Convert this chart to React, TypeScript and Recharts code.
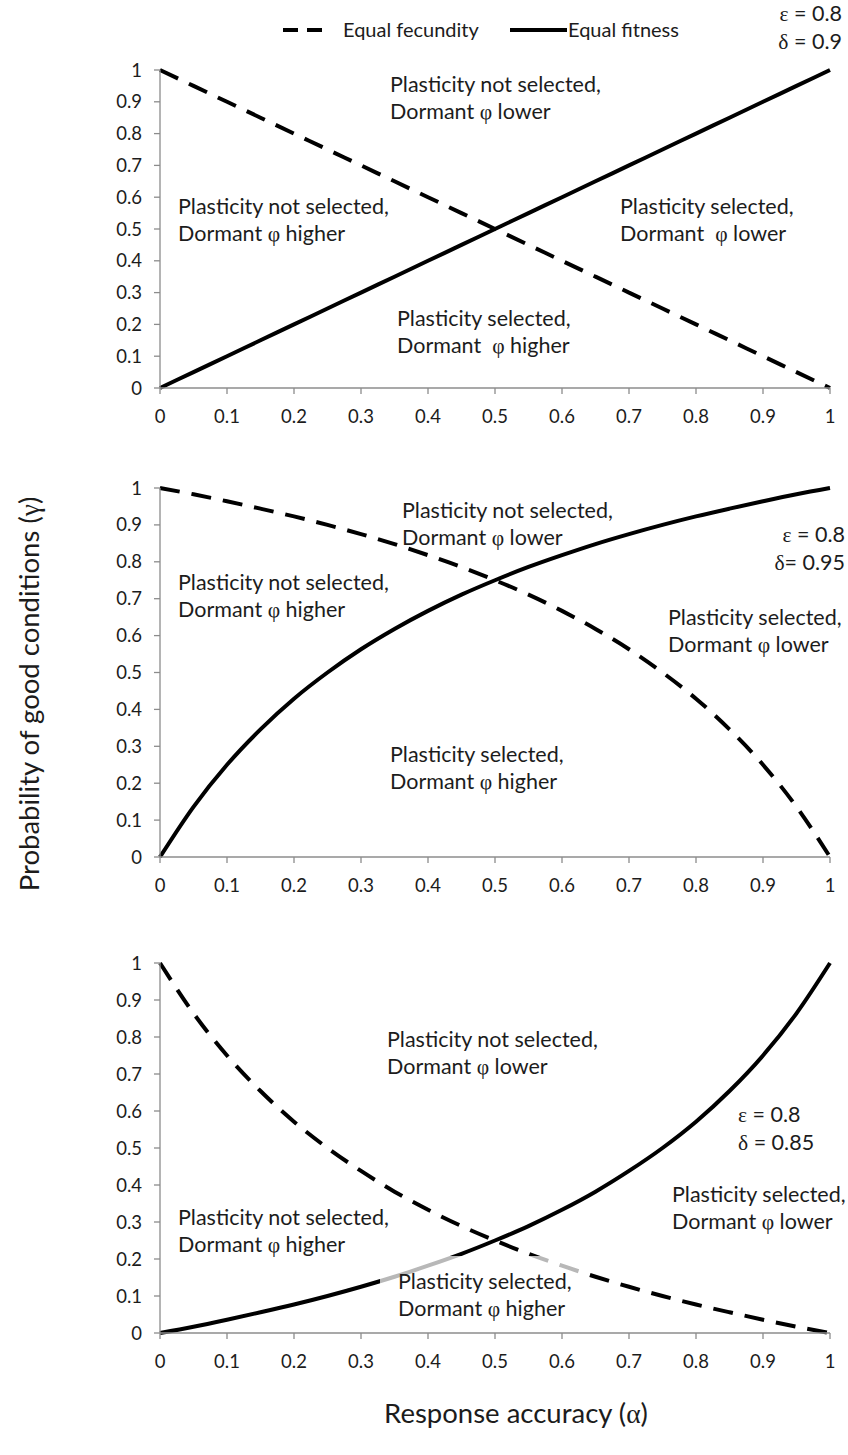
import React from "react";
import { LineChart, Line, XAxis, YAxis } from "recharts";

// response accuracy (alpha) grid
const alpha = [0, 0.05, 0.1, 0.15, 0.2, 0.25, 0.3, 0.35, 0.4, 0.45, 0.5, 0.55, 0.6, 0.65, 0.7, 0.75, 0.8, 0.85, 0.9, 0.95, 1];
const axisTicks = [0, 0.1, 0.2, 0.3, 0.4, 0.5, 0.6, 0.7, 0.8, 0.9, 1];

// delta = 0.9
const fitness90 = [0, 0.05, 0.1, 0.15, 0.2, 0.25, 0.3, 0.35, 0.4, 0.45, 0.5, 0.55, 0.6, 0.65, 0.7, 0.75, 0.8, 0.85, 0.9, 0.95, 1];
const fecundity90 = [1, 0.95, 0.9, 0.85, 0.8, 0.75, 0.7, 0.65, 0.6, 0.55, 0.5, 0.45, 0.4, 0.35, 0.3, 0.25, 0.2, 0.15, 0.1, 0.05, 0];

// delta = 0.95
const fitness95 = [0, 0.136, 0.25, 0.346, 0.429, 0.5, 0.563, 0.618, 0.667, 0.711, 0.75, 0.786, 0.818, 0.848, 0.875, 0.9, 0.923, 0.944, 0.964, 0.983, 1];
const fecundity95 = [1, 0.983, 0.964, 0.944, 0.923, 0.9, 0.875, 0.848, 0.818, 0.786, 0.75, 0.711, 0.667, 0.618, 0.563, 0.5, 0.429, 0.346, 0.25, 0.136, 0];

// delta = 0.85
const fitness85 = [0, 0.017, 0.036, 0.056, 0.077, 0.1, 0.125, 0.152, 0.182, 0.214, 0.25, 0.289, 0.333, 0.382, 0.438, 0.5, 0.571, 0.654, 0.75, 0.864, 1];
const fecundity85 = [1, 0.864, 0.75, 0.654, 0.571, 0.5, 0.438, 0.382, 0.333, 0.289, 0.25, 0.214, 0.182, 0.152, 0.125, 0.1, 0.077, 0.056, 0.036, 0.017, 0];

const FONT = "Lato, 'Open Sans', sans-serif";
const GREEK = "'Liberation Serif', 'DejaVu Serif', serif";
const AXIS = "#8c8c8c";
const TEXT = "#1c1c1c";

const Gk = ({ c }: { c: string }) => <span style={{ fontFamily: GREEK }}>{c}</span>;

function Note({ left, top, lines, right }: { left?: number; top: number; right?: number; lines: React.ReactNode[] }) {
  return (
    <div
      style={{
        position: "absolute",
        left,
        right,
        top,
        fontFamily: FONT,
        fontSize: 21.5,
        lineHeight: "27px",
        color: TEXT,
        whiteSpace: "pre",
        textAlign: right != null ? "right" : "left",
      }}
    >
      {lines.map((l, i) => (
        <div key={i}>{l}</div>
      ))}
    </div>
  );
}

function Panel({ top, plotHeight, fitness, fecundity }: { top: number; plotHeight: number; fitness: number[]; fecundity: number[] }) {
  const data = alpha.map((a, i) => ({ alpha: a, fitness: fitness[i], fecundity: fecundity[i] }));
  const mTop = 20;
  const xH = 45;
  return (
    <div style={{ position: "absolute", left: 0, top: top - mTop }}>
      <LineChart width={848} height={mTop + plotHeight + xH} data={data} margin={{ top: mTop, right: 18, left: 100, bottom: 0 }}>
        <XAxis
          dataKey="alpha"
          type="number"
          domain={[0, 1]}
          ticks={axisTicks}
          interval={0}
          height={xH}
          tickSize={6}
          tickMargin={16}
          axisLine={{ stroke: AXIS, strokeWidth: 1.3 }}
          tickLine={{ stroke: AXIS, strokeWidth: 1.3 }}
          tick={{ fill: TEXT, fontSize: 18.5, fontFamily: FONT }}
        />
        <YAxis
          type="number"
          domain={[0, 1]}
          ticks={axisTicks}
          interval={0}
          width={60}
          tickSize={6}
          tickMargin={12}
          axisLine={{ stroke: AXIS, strokeWidth: 1.3 }}
          tickLine={{ stroke: AXIS, strokeWidth: 1.3 }}
          tick={{ fill: TEXT, fontSize: 18.5, fontFamily: FONT }}
        />
        <Line
          type="monotone"
          dataKey="fecundity"
          stroke="#000"
          strokeWidth={4}
          strokeDasharray="20 12"
          strokeLinecap="butt"
          dot={false}
          isAnimationActive={false}
        />
        <Line type="monotone" dataKey="fitness" stroke="#000" strokeWidth={4} dot={false} isAnimationActive={false} />
      </LineChart>
    </div>
  );
}

const notSelLower = ["Plasticity not selected,", <>Dormant <Gk c="φ" /> lower</>];
const notSelHigher = ["Plasticity not selected,", <>Dormant <Gk c="φ" /> higher</>];
const selLower = ["Plasticity selected,", <>Dormant <Gk c="φ" /> lower</>];
const selLower2 = ["Plasticity selected,", <>Dormant  <Gk c="φ" /> lower</>];
const selHigher = ["Plasticity selected,", <>Dormant <Gk c="φ" /> higher</>];
const selHigher2 = ["Plasticity selected,", <>Dormant  <Gk c="φ" /> higher</>];

export default function App() {
  return (
    <div style={{ position: "absolute", left: 0, top: 0, width: 848, height: 1455, background: "#fff", overflow: "hidden" }}>
      {/* legend */}
      <div style={{ position: "absolute", left: 0, top: 0, width: 848, height: 60, fontFamily: FONT, fontSize: 20, color: TEXT }}>
        <svg width={848} height={60} style={{ position: "absolute", left: 0, top: 0 }}>
          <line x1={283} x2={322} y1={30} y2={30} stroke="#000" strokeWidth={4} strokeDasharray="15 9" />
          <line x1={510} x2={567} y1={30} y2={30} stroke="#000" strokeWidth={4} />
        </svg>
        <div style={{ position: "absolute", left: 343, top: 17 }}>Equal fecundity</div>
        <div style={{ position: "absolute", left: 568, top: 17 }}>Equal fitness</div>
      </div>

      <Panel top={70} plotHeight={318} fitness={fitness90} fecundity={fecundity90} />
      <Panel top={488} plotHeight={369} fitness={fitness95} fecundity={fecundity95} />
      <Panel top={963} plotHeight={370} fitness={fitness85} fecundity={fecundity85} />

      {/* panel 1 */}
      <Note right={6} top={0} lines={[<><Gk c="ε" /> = 0.8</>, <><Gk c="δ" /> = 0.9</>]} />
      <Note left={390} top={71} lines={notSelLower} />
      <Note left={178} top={193} lines={notSelHigher} />
      <Note left={620} top={193} lines={selLower2} />
      <Note left={397} top={305} lines={selHigher2} />

      {/* panel 2 */}
      <Note left={402} top={497} lines={notSelLower} />
      <Note right={3} top={521} lines={[<><Gk c="ε" /> = 0.8</>, <><Gk c="δ" />= 0.95</>]} />
      <Note left={178} top={569} lines={notSelHigher} />
      <Note left={668} top={604} lines={selLower} />
      <Note left={390} top={741} lines={selHigher} />

      {/* panel 3 */}
      <Note left={387} top={1026} lines={notSelLower} />
      <Note left={738} top={1101} lines={[<><Gk c="ε" /> = 0.8</>, <><Gk c="δ" /> = 0.85</>]} />
      <Note left={672} top={1181} lines={selLower} />
      <Note left={178} top={1204} lines={notSelHigher} />
      <div style={{ position: "absolute", left: 380, top: 1256, width: 200, height: 66, background: "rgba(255,255,255,0.72)" }} />
      <Note left={398} top={1268} lines={selHigher} />

      {/* axis titles */}
      <div
        style={{
          position: "absolute",
          left: 29,
          top: 694,
          transform: "translate(-50%, -50%) rotate(-90deg)",
          fontFamily: FONT,
          fontSize: 27.5,
          color: TEXT,
          whiteSpace: "nowrap",
        }}
      >
        Probability of good conditions (<Gk c="γ" />)
      </div>
      <div
        style={{
          position: "absolute",
          left: 516,
          top: 1413,
          transform: "translate(-50%, -50%)",
          fontFamily: FONT,
          fontSize: 27.5,
          color: TEXT,
          whiteSpace: "nowrap",
        }}
      >
        Response accuracy (<Gk c="α" />)
      </div>
    </div>
  );
}
